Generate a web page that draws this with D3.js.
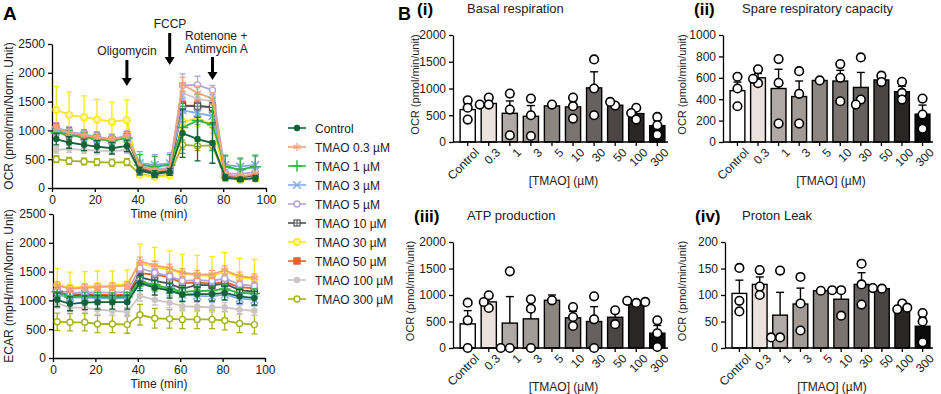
<!DOCTYPE html>
<html lang="en">
<head>
<meta charset="UTF-8">
<title>TMAO mitochondrial respiration</title>
<script src="https://d3js.org/d3.v7.min.js"></script>
<style>
    body { margin: 0; background: #fff; }
    svg { font-family: "Liberation Sans", Arial, sans-serif; }
    .axis path, .axis line { stroke: #000; stroke-width: 1.3; }
    .axis text { font-size: 12px; fill: #222; font-family: "Liberation Sans", Arial, sans-serif; }
    .lbl { font-size: 12px; fill: #222; }
</style>
</head>
<body>
<svg id="chart" width="941" height="394"></svg>
<script>
// ---- Panel A data ----
const times = [2, 8, 15, 21, 28, 35, 41, 48, 55, 61, 68, 75, 81, 88, 95];
const injections = [35, 55, 75];
const seriesNames = ["Control", "TMAO 0.3 µM", "TMAO 1 µM", "TMAO 3 µM", "TMAO 5 µM",
    "TMAO 10 µM", "TMAO 30 µM", "TMAO 50 µM", "TMAO 100 µM", "TMAO 300 µM"];

const ocrValues = [
    [850, 790, 750, 720, 690, 730, 300, 240, 280, 950, 850, 780, 180, 150, 170],
    [1040, 960, 920, 880, 840, 900, 380, 300, 330, 1800, 1650, 1550, 230, 200, 240],
    [960, 920, 880, 850, 820, 870, 400, 370, 400, 1050, 1170, 1100, 370, 320, 370],
    [1000, 950, 900, 870, 830, 880, 430, 400, 430, 1350, 1300, 1250, 400, 370, 400],
    [1050, 980, 930, 890, 850, 910, 380, 320, 350, 1780, 1790, 1700, 260, 240, 280],
    [1030, 960, 920, 880, 840, 890, 330, 260, 300, 1420, 1420, 1400, 220, 180, 230],
    [1360, 1270, 1230, 1190, 1150, 1180, 230, 190, 220, 1150, 1210, 1100, 170, 140, 170],
    [1000, 940, 900, 860, 830, 880, 350, 280, 320, 1430, 1430, 1400, 230, 190, 230],
    [660, 680, 660, 650, 640, 660, 320, 260, 290, 1650, 1550, 1500, 200, 170, 200],
    [500, 470, 460, 450, 440, 450, 240, 200, 230, 750, 730, 740, 170, 140, 160]
];
const ocrSem = [
    [100, 100, 100, 100, 100, 100, 60, 60, 60, 420, 380, 350, 50, 40, 50],
    [60, 60, 60, 60, 60, 60, 40, 40, 40, 120, 120, 100, 40, 40, 40],
    [80, 80, 80, 80, 80, 80, 180, 180, 180, 450, 450, 450, 200, 200, 200],
    [80, 80, 80, 80, 80, 80, 200, 180, 180, 200, 200, 200, 150, 130, 150],
    [80, 80, 80, 80, 80, 80, 60, 60, 60, 200, 150, 80, 60, 60, 60],
    [90, 90, 90, 90, 90, 90, 50, 50, 50, 80, 80, 80, 40, 40, 40],
    [400, 400, 370, 350, 340, 350, 40, 40, 40, 150, 150, 150, 40, 40, 40],
    [80, 80, 80, 80, 80, 80, 50, 50, 50, 80, 80, 80, 40, 40, 40],
    [60, 60, 60, 60, 60, 60, 40, 40, 40, 100, 100, 100, 30, 30, 30],
    [60, 60, 60, 60, 60, 60, 30, 30, 30, 80, 80, 80, 30, 30, 30]
];
const ecarValues = [
    [1010, 940, 960, 970, 970, 970, 1300, 1220, 1170, 1100, 1110, 1110, 1130, 1070, 1040],
    [1260, 1200, 1220, 1230, 1240, 1260, 1680, 1610, 1560, 1480, 1450, 1450, 1530, 1420, 1390],
    [1150, 1060, 1070, 1060, 1050, 1060, 1330, 1270, 1210, 1150, 1160, 1170, 1200, 1130, 1120],
    [1100, 1050, 1050, 1040, 1030, 1040, 1310, 1250, 1180, 1100, 1080, 1070, 1100, 1030, 1010],
    [1180, 1130, 1140, 1140, 1130, 1150, 1560, 1480, 1420, 1340, 1350, 1340, 1380, 1280, 1250],
    [1130, 1080, 1090, 1080, 1070, 1080, 1400, 1340, 1290, 1200, 1270, 1260, 1290, 1180, 1150],
    [1270, 1220, 1240, 1250, 1260, 1280, 1640, 1580, 1530, 1470, 1440, 1420, 1500, 1400, 1380],
    [1150, 1100, 1110, 1100, 1090, 1100, 1470, 1450, 1400, 1300, 1310, 1290, 1320, 1230, 1210],
    [950, 880, 870, 840, 820, 800, 1080, 1010, 960, 900, 890, 880, 880, 840, 820],
    [630, 620, 620, 590, 590, 580, 750, 690, 680, 670, 670, 670, 650, 600, 580]
];
const ecarSem = [
    [120, 120, 120, 120, 120, 120, 130, 130, 130, 120, 120, 120, 120, 120, 120],
    [60, 60, 60, 60, 60, 60, 70, 70, 70, 70, 70, 70, 70, 70, 70],
    [80, 80, 80, 80, 80, 80, 90, 90, 90, 80, 80, 80, 80, 80, 80],
    [100, 100, 100, 100, 100, 100, 100, 100, 100, 100, 100, 100, 100, 100, 100],
    [60, 60, 60, 60, 60, 60, 70, 70, 70, 60, 60, 60, 60, 60, 60],
    [80, 80, 80, 80, 80, 80, 80, 80, 80, 80, 80, 80, 80, 80, 80],
    [280, 270, 260, 260, 250, 250, 340, 340, 330, 330, 340, 340, 330, 330, 330],
    [60, 60, 60, 60, 60, 60, 70, 70, 70, 60, 60, 60, 60, 60, 60],
    [80, 80, 80, 80, 80, 80, 90, 90, 90, 80, 80, 80, 80, 80, 80],
    [150, 150, 150, 150, 150, 150, 180, 170, 160, 160, 160, 160, 160, 160, 160]
];

// ---- Panel B data ----
const doses = ["Control", "0.3", "1", "3", "5", "10", "30", "50", "100", "300"];

const basalMean = [606, 720, 537, 481, 675, 656, 1012, 687, 531, 306];
const basalSem = [105, 45, 230, 200, 10, 115, 300, 35, 60, 95];
const basalPoints = [[780, 640, 420], [830, 700, 700], [906, 606, 125], [812, 500, 112], [700],
    [831, 669, 437], [1544, 1000, 500], [681, 750], [640, 540, 420], [469, 312, 137]];

const spareMean = [480, 600, 500, 425, 575, 570, 510, 580, 470, 260];
const spareSem = [80, 40, 180, 145, 5, 100, 140, 20, 50, 85];
const sparePoints = [[610, 500, 334], [680, 550, 590], [775, 553, 172], [662, 450, 172], [575],
    [728, 600, 381], [790, 397, 350], [620, 560], [562, 459, 397], [406, 256, 125]];

const atpMean = [455, 870, 470, 550, 900, 570, 500, 580, 860, 280];
const atpSem = [250, 70, 500, 140, 100, 120, 280, 130, 15, 145];
const atpPoints = [[855, 522, 0], [994, 755, 868], [1446, 0, 0], [918, 742, 0], [900],
    [773, 585, 415], [975, 541, 0], [711, 450], [850, 890, 870], [522, 277, 19]];

const leakMean = [103, 120, 62, 83, 108, 92, 120, 112, 77, 41];
const leakSem = [25, 14, 43, 30, 2, 14, 22, 1, 4, 16];
const leakPoints = [[151, 89, 69], [147, 116, 100], [146, 20, 20], [134, 84, 33], [108],
    [109, 109, 61], [159, 120, 82], [112, 113], [84, 73, 76], [66, 50, 11]];

// ---- styles ----
const colors = ["#12623a", "#f7a178", "#35b445", "#82abe6", "#b2a4dc",
    "#505050", "#f8e71a", "#e4622a", "#cdc4c4", "#a6b31a"];
const barColors = ["#ffffff", "#ebe1dd", "#b1a9a5", "#a29a95", "#8d8580",
    "#7a7370", "#666060", "#4b4545", "#2b2626", "#0b0b0b"];

const svg = d3.select("#chart");
const fmt = d3.format("d");

function marker(g, i, cx, cy) {
    const c = colors[i];
    const sym = (type, size) => d3.symbol().type(type).size(size)();
    const t = `translate(${cx},${cy})`;
    if (i === 0 || i === 8) {
        g.append("circle").attr("cx", cx).attr("cy", cy).attr("r", 3.2).attr("fill", c);
    } else if (i === 1) {
        g.append("path").attr("d", sym(d3.symbolAsterisk || d3.symbolCross, 45)).attr("transform", t)
            .attr("fill", "none").attr("stroke", c).attr("stroke-width", 1.3);
    } else if (i === 2) {
        g.append("path").attr("d", sym(d3.symbolPlus || d3.symbolCross, 45)).attr("transform", t)
            .attr("fill", "none").attr("stroke", c).attr("stroke-width", 1.5);
    } else if (i === 3) {
        g.append("path").attr("d", sym(d3.symbolTimes || d3.symbolCross, 40)).attr("transform", t)
            .attr("fill", "none").attr("stroke", c).attr("stroke-width", 1.5);
    } else if (i === 4 || i === 9) {
        g.append("circle").attr("cx", cx).attr("cy", cy).attr("r", 3)
            .attr("fill", "#fff").attr("stroke", c).attr("stroke-width", 1.4);
    } else if (i === 6) {
        g.append("circle").attr("cx", cx).attr("cy", cy).attr("r", 3.2)
            .attr("fill", "#fff8a0").attr("stroke", c).attr("stroke-width", 1.4);
    } else if (i === 5) {
        g.append("rect").attr("x", cx - 3).attr("y", cy - 3).attr("width", 6).attr("height", 6)
            .attr("fill", "#fff").attr("stroke", c).attr("stroke-width", 1.2);
        g.append("path").attr("d", `M${cx - 3},${cy}H${cx + 3}M${cx},${cy - 3}V${cy + 3}`)
            .attr("stroke", c).attr("stroke-width", 1);
    } else if (i === 7) {
        g.append("rect").attr("x", cx - 3.2).attr("y", cy - 3.2).attr("width", 6.4).attr("height", 6.4)
            .attr("fill", c).attr("stroke", c);
    }
}

function timePanel(box, values, sems, title) {
    const x = d3.scaleLinear().domain([0, 100]).range([box.left, box.right]);
    const y = d3.scaleLinear().domain([0, 2500]).range([box.bottom, box.top]);

    svg.append("g").attr("class", "axis")
        .attr("transform", `translate(0,${box.bottom})`)
        .call(d3.axisBottom(x).tickValues([0, 20, 40, 60, 80, 100]).tickFormat(fmt).tickSize(4).tickSizeOuter(0));
    svg.append("g").attr("class", "axis")
        .attr("transform", `translate(${box.left},0)`)
        .call(d3.axisLeft(y).tickValues([0, 500, 1000, 1500, 2000, 2500]).tickFormat(fmt).tickSize(4).tickSizeOuter(0));

    svg.append("text").attr("class", "lbl").attr("text-anchor", "middle")
        .attr("x", (box.left + box.right) / 2).attr("y", box.bottom + 30).text("Time (min)");
    svg.append("text").attr("class", "lbl").attr("text-anchor", "middle")
        .attr("transform", `translate(13,${(box.top + box.bottom) / 2}) rotate(-90)`).text(title);

    const line = d3.line().x((d, k) => x(times[k])).y(d => y(d));
    for (let i = values.length - 1; i >= 0; i--) {
        const g = svg.append("g");
        const c = colors[i];
        values[i].forEach((v, k) => {
            const cx = x(times[k]);
            const lo = y(Math.max(0, v - sems[i][k])), hi = y(v + sems[i][k]);
            g.append("path")
                .attr("d", `M${cx},${lo}V${hi}M${cx - 3},${lo}H${cx + 3}M${cx - 3},${hi}H${cx + 3}`)
                .attr("stroke", c).attr("stroke-width", 1.3).attr("fill", "none");
        });
        g.append("path").datum(values[i]).attr("d", line)
            .attr("fill", "none").attr("stroke", c).attr("stroke-width", 1.8);
        values[i].forEach((v, k) => marker(g, i, x(times[k]), y(v)));
    }
    return x;
}

const ocrBox = { left: 52, right: 266, top: 44, bottom: 188 };
const ecarBox = { left: 53, right: 265, top: 214, bottom: 358 };
const xA = timePanel(ocrBox, ocrValues, ocrSem, "OCR (pmol/min/Norm. Unit)");
timePanel(ecarBox, ecarValues, ecarSem, "ECAR (mpH/min/Norm. Unit)");

// injection arrows
function arrow(cx, y1, y2) {
    svg.append("line").attr("x1", cx).attr("x2", cx).attr("y1", y1).attr("y2", y2 - 7)
        .attr("stroke", "#000").attr("stroke-width", 3);
    svg.append("path").attr("d", `M${cx - 5},${y2 - 8}L${cx + 5},${y2 - 8}L${cx},${y2}Z`).attr("fill", "#000");
}
arrow(xA(injections[0]), 60, 86);
arrow(xA(injections[1]), 33, 65);
arrow(xA(injections[2]), 57, 80);
svg.append("text").attr("class", "lbl").attr("text-anchor", "middle").attr("x", 127).attr("y", 55).text("Oligomycin");
svg.append("text").attr("class", "lbl").attr("text-anchor", "middle").attr("x", 170).attr("y", 28).text("FCCP");
svg.append("text").attr("class", "lbl").attr("x", 185).attr("y", 40).text("Rotenone +");
svg.append("text").attr("class", "lbl").attr("x", 185).attr("y", 53).text("Antimycin A");

// legend
seriesNames.forEach((name, i) => {
    const ly = 128 + i * 19;
    const g = svg.append("g");
    g.append("line").attr("x1", 288).attr("x2", 306).attr("y1", ly).attr("y2", ly)
        .attr("stroke", colors[i]).attr("stroke-width", 1.6);
    marker(g, i, 297, ly);
    g.append("text").attr("class", "lbl").attr("x", 315).attr("y", ly + 4.5).text(name);
});

svg.append("text").attr("x", 3).attr("y", 20).attr("font-size", 19).attr("font-weight", "bold").text("A");
svg.append("text").attr("x", 398).attr("y", 20).attr("font-size", 18).attr("font-weight", "bold").text("B");

// ---- bar panels ----
function barPanel(box, yMax, yStep, means, sems, points, roman, title, ylabX) {
    const x = d3.scaleBand().domain(doses).range([box.left + 5, box.right - 1])
        .paddingInner(0.28).paddingOuter(0.1);
    const y = d3.scaleLinear().domain([0, yMax]).range([box.bottom, box.top]);

    svg.append("g").attr("class", "axis")
        .attr("transform", `translate(${box.left},0)`)
        .call(d3.axisLeft(y).tickValues(d3.range(0, yMax + 1, yStep)).tickFormat(fmt).tickSize(4).tickSizeOuter(0));

    const bw = x.bandwidth();
    doses.forEach((d, i) => {
        const bx = x(d), cx = bx + bw / 2;
        svg.append("line").attr("x1", cx).attr("x2", cx).attr("y1", y(means[i]))
            .attr("y2", y(means[i] + sems[i])).attr("stroke", "#000").attr("stroke-width", 1.4);
        svg.append("line").attr("x1", cx - 4).attr("x2", cx + 4).attr("y1", y(means[i] + sems[i]))
            .attr("y2", y(means[i] + sems[i])).attr("stroke", "#000").attr("stroke-width", 1.4);
        svg.append("rect").attr("x", bx).attr("width", bw).attr("y", y(means[i]))
            .attr("height", box.bottom - y(means[i])).attr("fill", barColors[i])
            .attr("stroke", "#000").attr("stroke-width", 1.4);
    });

    svg.append("g").attr("class", "axis")
        .attr("transform", `translate(0,${box.bottom})`)
        .call(d3.axisBottom(x).tickSize(4).tickSizeOuter(0))
        .call(g => g.select(".domain").attr("d", `M${box.left},0H${box.right}`))
        .selectAll("text")
        .attr("text-anchor", "end")
        .attr("transform", "translate(3,2) rotate(-45)")
        .attr("dx", "0").attr("dy", "0.75em")
        .attr("y", 4).attr("x", 0);

    // points, spread sideways only where they sit on top of each other
    const r = 4.3;
    doses.forEach((d, i) => {
        const cx0 = x(d) + bw / 2;
        const placed = [];
        points[i].forEach(v => {
            const py = y(v);
            let off = 0;
            for (const o of [0, -5, 5, -9, 9]) {
                if (placed.every(p => Math.hypot(p[0] - (cx0 + o), p[1] - py) >= 6)) { off = o; break; }
            }
            placed.push([cx0 + off, py]);
        });
        placed.forEach(p => {
            svg.append("circle").attr("cx", p[0]).attr("cy", p[1]).attr("r", r)
                .attr("fill", "#fff").attr("stroke", "#000").attr("stroke-width", 1.6);
        });
    });

    svg.append("text").attr("class", "lbl").attr("text-anchor", "middle")
        .attr("x", (box.left + box.right) / 2 + 3).attr("y", box.bottom + 43).text("[TMAO] (µM)");
    svg.append("text").attr("text-anchor", "middle").attr("font-size", 11).attr("fill", "#222")
        .attr("transform", `translate(${ylabX},${(box.top + box.bottom) / 2 - 4}) rotate(-90)`)
        .text("OCR (pmol/min/unit)");
    svg.append("text").attr("x", roman.x).attr("y", box.top - 20).attr("font-size", 17)
        .attr("font-weight", "bold").text(roman.t);
    svg.append("text").attr("x", roman.tx).attr("y", box.top - 22).attr("font-size", 13)
        .attr("fill", "#222").text(title);
}

barPanel({ left: 453, right: 668, top: 35, bottom: 142 }, 2000, 500, basalMean, basalSem, basalPoints,
    { t: "(i)", x: 417, tx: 467 }, "Basal respiration", 419);
barPanel({ left: 723, right: 933, top: 35, bottom: 142 }, 1000, 200, spareMean, spareSem, sparePoints,
    { t: "(ii)", x: 694, tx: 742 }, "Spare respiratory capacity", 686);
barPanel({ left: 453, right: 668, top: 242, bottom: 348 }, 2000, 500, atpMean, atpSem, atpPoints,
    { t: "(iii)", x: 414, tx: 467 }, "ATP production", 414);
barPanel({ left: 725, right: 933, top: 242, bottom: 348 }, 200, 50, leakMean, leakSem, leakPoints,
    { t: "(iv)", x: 695, tx: 742 }, "Proton Leak", 686);
</script>
</body>
</html>
